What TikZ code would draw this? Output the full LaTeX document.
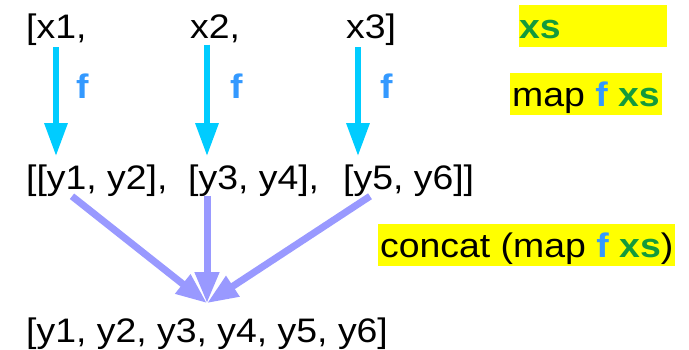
\documentclass[tikz,border=0pt]{standalone}
\usepackage{fontspec}
\setmainfont{Liberation Sans}[FakeStretch=1.1]
\usepackage{xcolor}
\usepackage{tikz}
\usetikzlibrary{positioning,arrows.meta,calc}

\definecolor{mapcyan}{HTML}{00CCFF}
\definecolor{catblue}{HTML}{9999FF}
\definecolor{fblue}{HTML}{3399FF}
\definecolor{xsgreen}{HTML}{149A3C}
\definecolor{hlyellow}{HTML}{FFFF00}

\tikzset{
    term/.style={anchor=base west, inner sep=0pt},
    fname/.style={term, font={\fontsize{34}{40}\selectfont\bfseries}, text=fblue},
    hl/.style={anchor=base west, fill=hlyellow, inner ysep=0pt, text height=33pt, text depth=9pt},
    maparrow/.style={draw=mapcyan, line width=6pt, -{Triangle[width=22pt,length=33pt]}},
    catarrow/.style={draw=catblue, line width=7pt, -{Triangle[width=23pt,length=31pt]}}
}
\newcommand{\fn}{\textcolor{fblue}{\bfseries f}}
\newcommand{\xs}{\textcolor{xsgreen}{\bfseries xs}}

\begin{document}
\begin{tikzpicture}[x=1pt, y=-1pt, font=\fontsize{34}{40}\selectfont]
    \useasboundingbox (0,0) rectangle (689,349);

    % the list xs
    \node[term] (x1) at (26,38) {[x1,};
    \node[term] (x2) at (190,38) {x2,};
    \node[term] (x3) at (346,38) {x3]};

    % map f xs
    \node[term] (ys12) at (26,189) {[[y1, y2],};
    \node[term] (ys34) at (188,189) {[y3, y4],};
    \node[term] (ys56) at (343,189) {[y5, y6]]};

    % concat
    \node[term] (ys) at (26,342) {[y1, y2, y3, y4, y5, y6]};

    \node[fname] (f1) at (76,98) {f};
    \node[fname] (f2) at (230,98) {f};
    \node[fname] (f3) at (380,98) {f};

    % labels on the right
    \node[hl, inner xsep=0pt, text width=148pt] (lxs) at (519,38) {\xs};
    \node[hl, inner xsep=2pt] (lmap) at (510,106) {map \fn{} \xs};
    \node[hl, inner xsep=2pt] (lcat) at (378,257) {concat (map \fn{} \xs)};

    \draw[maparrow, shorten <=2pt] ([xshift=30pt]x1.south west) -- ([xshift=30pt,yshift=8pt]x1.south west |- ys12.north);
    \draw[maparrow, shorten <=2pt] ([xshift=17pt]x2.south west) -- ([xshift=17pt,yshift=8pt]x2.south west |- ys34.north);
    \draw[maparrow, shorten <=2pt] ([xshift=12pt]x3.south west) -- ([xshift=12pt,yshift=8pt]x3.south west |- ys56.north);

    \coordinate (join) at ([xshift=181pt,yshift=14pt]ys.north west);
    \draw[catarrow] ([xshift=46pt]ys12.south west) -- (join);
    \draw[catarrow] ([xshift=19pt]ys34.south west) -- (join);
    \draw[catarrow] ([xshift=27pt]ys56.south west) -- (join);
\end{tikzpicture}
\end{document}
